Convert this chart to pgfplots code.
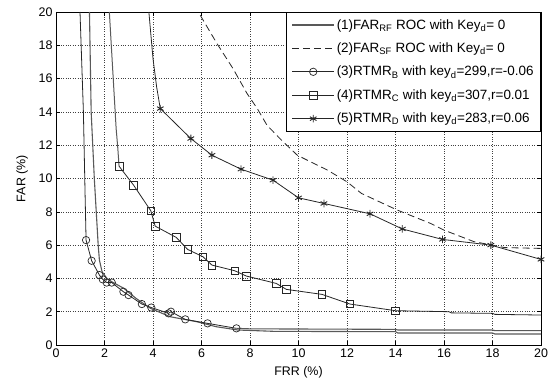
\documentclass[border=0pt]{standalone}
\usepackage{pgfplots}
\pgfplotsset{compat=1.18}
\usepackage{fontspec}
\setmainfont{Liberation Sans}
\definecolor{ln}{gray}{0.15}
\definecolor{lg}{gray}{0.35}
\begin{document}
\begin{tikzpicture}
\begin{axis}[
 at={(0,0)}, anchor=south west,
 width=485bp, height=333bp, scale only axis,
 xmin=0, xmax=20, ymin=0, ymax=20,
 xtick={0,2,...,20}, ytick={0,2,...,20},
 grid=major, grid style={dotted, black!75, line width=0.6bp},
 axis line style={black, line width=0.8bp},
 major tick length=4bp,
 tick style={black, line width=0.6bp},
 /pgf/number format/assume math mode=true,
 ticklabel style={font=\fontsize{12.5}{14}\selectfont},
 label style={font=\fontsize{12.5}{14}\selectfont},
 xlabel={FRR (\%)}, ylabel={FAR (\%)},
 xlabel style={at={(axis description cs:0.5,-0.081)}, anchor=center},
 ylabel style={at={(axis description cs:-0.070,0.5)}, anchor=center, rotate=0},
 legend style={at={(1,1)}, anchor=north east, font=\fontsize{13.5}{15}\selectfont,
   draw=black, line width=0.7bp, inner xsep=5bp, inner ysep=5bp, row sep=8.2bp},
 legend cell align=left,
 legend image code/.code={\draw[mark repeat=2,mark phase=2,#1] plot coordinates {(0bp,0bp) (21bp,0bp) (42bp,0bp)};},
]
% (1) FAR_RF
\addplot[lg, line width=1.1bp, no markers] coordinates {
(1.38,20) (1.45,14) (1.58,10) (1.66,8) (1.74,6) (1.79,5.1) (1.9,4.4) (2.1,4.0) (2.3,3.8) (2.8,3.4) (3.3,2.8) (3.9,2.2) (4.7,1.7) (5.8,1.4) (6.6,1.1) (7.5,0.9) (9,0.82) (14,0.8) (14.1,0.72) (18,0.72) (18.1,0.66) (20,0.66)};
\addlegendentry{(1)FAR\textsubscript{RF} ROC with Key\textsubscript{d}= 0}
% (2) FAR_SF
\addplot[ln, line width=0.8bp, dash pattern=on 7bp off 4bp, no markers] coordinates {
(5.95,19.8) (6.64,18.1) (7.3,16.6) (7.88,15.1) (8.3,14.2) (8.7,13.2) (9.3,12.3) (9.95,11.4) (10.36,11.1) (11.2,10.5) (12.0,9.8) (12.6,9.1) (14.08,8.1) (15.45,7.3) (16.0,6.9) (17.25,6.2) (18.0,6.0) (18.5,5.85) (20,5.8)};
\addlegendentry{(2)FAR\textsubscript{SF} ROC with Key\textsubscript{d}= 0}
% (3) RTMR_B
\addplot[ln, line width=0.8bp, mark=o, mark size=3.7bp, mark options={solid, line width=0.7bp}] coordinates {
(1.24,6.3) (1.47,5.06) (1.79,4.2) (1.93,3.94) (2.09,3.75) (2.3,3.75) (2.78,3.2) (2.99,3.0) (3.54,2.46) (3.93,2.25) (4.64,1.9) (4.74,2.0) (5.33,1.54) (6.25,1.3) (7.44,1.0)};
\addlegendentry{(3)RTMR\textsubscript{B} with key\textsubscript{d}=299,r=-0.06}
\addplot[ln, line width=0.8bp, no markers, forget plot] coordinates {
(0.99,20) (1.13,14) (1.2,9) (1.24,6.3)};
\addplot[lg, line width=1.1bp, no markers, forget plot] coordinates {
(7.44,1.0) (8,0.97) (14,0.94) (14.1,0.9) (18,0.9) (18.1,0.86) (20,0.86)};
% (4) RTMR_C
\addplot[ln, line width=0.8bp, mark=square, mark size=3.8bp, mark options={solid, line width=0.7bp}] coordinates {
(2.6,10.74) (3.2,9.6) (3.91,8.06) (4.09,7.14) (4.96,6.46) (5.43,5.74) (6.06,5.3) (6.43,4.8) (7.37,4.46) (7.85,4.14) (9.08,3.7) (9.5,3.34) (10.97,3.04) (12.12,2.46) (14.0,2.06)};
\addlegendentry{(4)RTMR\textsubscript{C} with key\textsubscript{d}=307,r=0.01}
\addplot[lg, line width=1.0bp, no markers, forget plot] coordinates {
(2.2,20) (2.4,15) (2.48,13) (2.55,11.8) (2.6,10.74)};
\addplot[ln, line width=0.8bp, no markers, forget plot] coordinates {
(14,2.06) (16.2,2.0) (16.3,1.93) (18,1.9) (18.1,1.84) (20,1.8)};
% (5) RTMR_D
\addplot[ln, line width=0.8bp, mark=asterisk, mark size=3.8bp, mark options={solid, line width=0.9bp}] coordinates {
(4.3,14.2) (5.56,12.4) (6.43,11.4) (7.63,10.56) (8.95,9.9) (10.0,8.84) (11.05,8.5) (12.95,7.88) (14.28,6.97) (15.94,6.34) (17.93,6.0) (20,5.14)};
\addlegendentry{(5)RTMR\textsubscript{D} with key\textsubscript{d}=283,r=0.06}
\addplot[ln, line width=0.8bp, no markers, forget plot] coordinates {
(3.83,20) (4.0,17.2) (4.15,15.5) (4.3,14.2)};
\end{axis}
\pgfresetboundingbox
\path[use as bounding box] (-56bp,-35bp) rectangle (493bp,345bp);
\end{tikzpicture}
\end{document}
